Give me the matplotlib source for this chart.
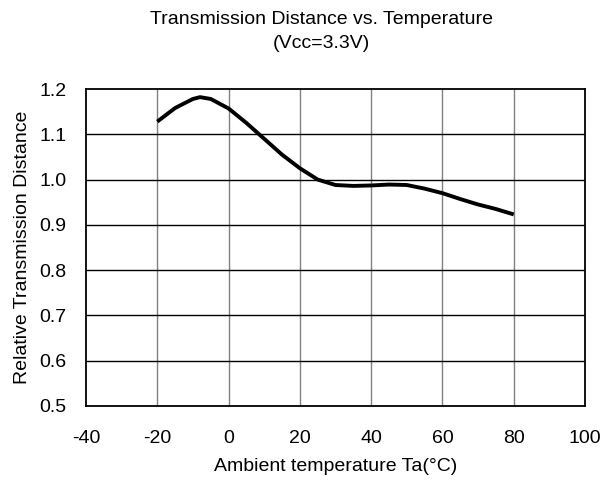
import numpy as np
import matplotlib.pyplot as plt

plt.rcParams['font.family'] = ['Liberation Sans', 'DejaVu Sans']
plt.rcParams['axes.unicode_minus'] = False

temp = np.array([-20, -15, -10, -8, -5, 0, 5, 10, 15, 20, 25, 30, 35, 40, 45, 50, 55, 60, 65, 70, 75, 80])
dist = np.array([1.128, 1.158, 1.178, 1.182, 1.178, 1.157, 1.125, 1.09, 1.055, 1.025, 1.000,
                 0.988, 0.986, 0.987, 0.989, 0.988, 0.980, 0.970, 0.957, 0.945, 0.935, 0.923])

xticks = np.arange(-40, 101, 20)
yticks = np.arange(0.5, 1.21, 0.1)

fig = plt.figure(figsize=(6.15, 4.83), dpi=100)
ax = fig.add_axes([86/615, 1-406/483, 499/615, 317/483])

for x in xticks[1:-1]:
    ax.axvline(x, color="#808080", lw=1.0, zorder=1)
for y in yticks[1:-1]:
    ax.axhline(y, color="black", lw=1.0, zorder=1)

ax.plot(temp, dist, color="black", lw=2.8, zorder=3, solid_capstyle="butt")

ax.set_xlim(-40, 100)
ax.set_ylim(0.5, 1.2)
ax.set_xticks(xticks)
ax.set_yticks(yticks)
ax.set_yticklabels(["%.1f" % v for v in yticks])
ax.tick_params(length=0, labelsize=14)
ax.tick_params(axis="x", pad=17)
ax.tick_params(axis="y", pad=14)
for s in ax.spines.values():
    s.set_linewidth(1.3)

ax.set_xlabel("Ambient temperature Ta(°C)", fontsize=14, labelpad=8)
ax.set_ylabel("Relative Transmission Distance", fontsize=14, labelpad=6)
fig.text(321/615, 1-20/483, "Transmission Distance vs. Temperature",
         ha="center", va="center", fontsize=14)
fig.text(321/615, 1-43/483, "(Vcc=3.3V)",
         ha="center", va="center", fontsize=14)

plt.savefig("out.png")
